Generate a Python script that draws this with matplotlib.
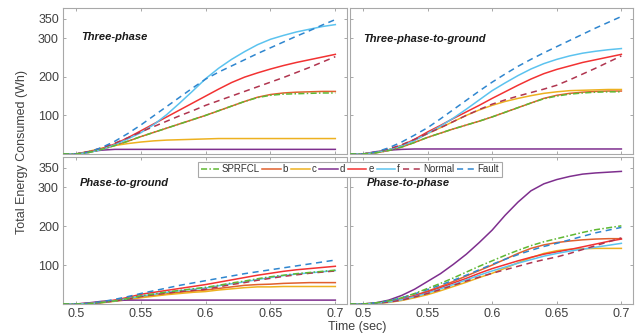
import matplotlib
matplotlib.use("Agg")
import matplotlib.pyplot as plt
from matplotlib.lines import Line2D

plt.rcParams["font.family"] = ["Liberation Sans", "DejaVu Sans"]

# time axis (sec)
t = [0.49, 0.50, 0.51, 0.52, 0.53, 0.54, 0.55, 0.56, 0.57, 0.58, 0.59,
     0.60, 0.61, 0.62, 0.63, 0.64, 0.65, 0.66, 0.67, 0.68, 0.69, 0.70]

series_names = ["SPRFCL", "b", "c", "d", "e", "f", "Normal", "Fault"]
panel_titles = ["Three-phase", "Three-phase-to-ground", "Phase-to-ground", "Phase-to-phase"]

# Three-phase
tp_sprfcl = [0, 0, 4, 12, 22, 33, 45, 56, 67, 78, 89, 100, 112, 124, 136, 146, 152, 155, 156, 157, 158, 158]
tp_b      = [0, 0, 4, 12, 22, 33, 45, 56, 67, 78, 89, 100, 112, 124, 136, 147, 154, 158, 160, 161, 162, 162]
tp_c      = [0, 0, 7, 15, 22, 27, 31, 34, 36, 37, 38, 39, 40, 40, 40, 40, 40, 40, 40, 40, 40, 40]
tp_d      = [0, 0, 6, 10, 12, 12, 12, 12, 12, 12, 12, 12, 12, 12, 12, 12, 12, 12, 12, 12, 12, 12]
tp_e      = [0, 0, 5, 14, 26, 42, 60, 78, 96, 114, 132, 150, 168, 185, 199, 210, 220, 229, 237, 244, 251, 258]
tp_f      = [0, 0, 4, 12, 24, 39, 55, 76, 102, 132, 163, 195, 222, 245, 265, 283, 297, 307, 316, 323, 330, 335]
tp_normal = [0, 0, 6, 16, 28, 42, 57, 71, 85, 99, 112, 126, 138, 150, 162, 174, 186, 198, 211, 224, 238, 252]
tp_fault  = [0, 0, 5, 17, 33, 53, 75, 99, 123, 147, 171, 194, 212, 228, 244, 260, 275, 290, 305, 319, 334, 348]

# Three-phase-to-ground
tpg_sprfcl = [0, 0, 3, 9, 18, 30, 43, 54, 65, 75, 85, 96, 108, 120, 132, 143, 150, 155, 158, 160, 161, 161]
tpg_b      = [0, 0, 3, 9, 18, 30, 43, 54, 65, 75, 85, 96, 108, 120, 132, 144, 152, 157, 160, 162, 163, 163]
tpg_c      = [0, 0, 4, 11, 22, 36, 53, 68, 84, 100, 114, 126, 136, 144, 151, 157, 161, 164, 165, 166, 167, 167]
tpg_d      = [0, 0, 6, 10, 12, 13, 13, 13, 13, 13, 13, 13, 13, 13, 13, 13, 13, 13, 13, 13, 13, 13]
tpg_e      = [0, 0, 4, 11, 22, 38, 57, 74, 92, 109, 126, 144, 161, 178, 194, 208, 219, 228, 237, 244, 251, 258]
tpg_f      = [0, 0, 4, 11, 21, 35, 53, 72, 93, 116, 140, 164, 184, 203, 220, 234, 245, 254, 261, 266, 270, 273]
tpg_normal = [0, 0, 5, 13, 24, 38, 53, 68, 84, 100, 115, 129, 140, 150, 159, 168, 178, 192, 207, 222, 238, 254]
tpg_fault  = [0, 0, 5, 16, 31, 49, 68, 91, 115, 139, 163, 186, 207, 227, 245, 262, 278, 294, 310, 326, 341, 356]

# Phase-to-ground
pg_sprfcl = [0, 0, 1, 4, 8, 14, 21, 26, 31, 35, 39, 43, 48, 54, 59, 65, 70, 74, 78, 81, 84, 87]
pg_b      = [0, 0, 1, 4, 8, 13, 18, 22, 26, 30, 33, 36, 40, 44, 48, 50, 51, 53, 54, 55, 55, 55]
pg_c      = [0, 0, 1, 3, 7, 11, 16, 20, 24, 27, 30, 32, 36, 39, 42, 44, 44, 45, 45, 45, 45, 45]
pg_d      = [0, 0, 3, 7, 9, 10, 10, 10, 10, 10, 10, 10, 10, 10, 10, 10, 10, 10, 10, 10, 10, 10]
pg_e      = [0, 0, 2, 5, 10, 17, 25, 30, 35, 40, 45, 50, 56, 62, 68, 74, 79, 84, 88, 91, 94, 97]
pg_f      = [0, 0, 1, 4, 8, 14, 20, 25, 30, 34, 38, 41, 47, 52, 57, 63, 68, 73, 77, 80, 83, 86]
pg_normal = [0, 0, 1, 4, 8, 13, 19, 24, 28, 32, 35, 38, 44, 50, 55, 61, 66, 71, 75, 79, 82, 85]
pg_fault  = [0, 0, 2, 6, 12, 19, 27, 34, 41, 48, 54, 60, 66, 72, 78, 83, 88, 93, 98, 103, 108, 113]

# Phase-to-phase
pp_sprfcl = [0, 0, 3, 8, 16, 27, 40, 53, 67, 82, 97, 111, 125, 138, 150, 160, 168, 176, 184, 191, 196, 201]
pp_b      = [0, 0, 2, 6, 13, 22, 33, 45, 58, 72, 86, 100, 115, 130, 143, 152, 158, 162, 165, 167, 168, 168]
pp_c      = [0, 0, 1, 4, 9, 16, 24, 34, 45, 56, 68, 79, 92, 106, 119, 130, 137, 141, 142, 143, 143, 143]
pp_d      = [0, 0, 3, 10, 22, 38, 58, 78, 102, 128, 158, 190, 228, 262, 291, 309, 320, 328, 334, 337, 339, 341]
pp_e      = [0, 0, 2, 6, 12, 21, 31, 42, 54, 66, 79, 91, 101, 111, 120, 128, 134, 140, 147, 154, 161, 167]
pp_f      = [0, 0, 2, 5, 11, 19, 28, 39, 50, 62, 74, 85, 95, 105, 114, 123, 130, 136, 141, 146, 151, 156]
pp_normal = [0, 0, 2, 5, 10, 18, 27, 37, 48, 59, 69, 79, 88, 97, 106, 114, 121, 130, 140, 150, 160, 170]
pp_fault  = [0, 0, 3, 8, 16, 26, 37, 49, 61, 74, 88, 102, 115, 127, 138, 148, 156, 165, 174, 183, 190, 197]

panels = [
    [tp_sprfcl, tp_b, tp_c, tp_d, tp_e, tp_f, tp_normal, tp_fault],
    [tpg_sprfcl, tpg_b, tpg_c, tpg_d, tpg_e, tpg_f, tpg_normal, tpg_fault],
    [pg_sprfcl, pg_b, pg_c, pg_d, pg_e, pg_f, pg_normal, pg_fault],
    [pp_sprfcl, pp_b, pp_c, pp_d, pp_e, pp_f, pp_normal, pp_fault],
]

x_ticks = [0.5, 0.55, 0.6, 0.65, 0.7]
x_ticklabels = ["0.5", "0.55", "0.6", "0.65", "0.7"]
y_ticks = [100, 200, 300, 350]

STYLES = {
    "SPRFCL": dict(color="#5fb832", linestyle=(0, (4, 1.5, 1, 1.5))),
    "b": dict(color="#e0602e", linestyle="-"),
    "c": dict(color="#EDB120", linestyle="-"),
    "d": dict(color="#7E2F8E", linestyle="-"),
    "e": dict(color="#f23232", linestyle="-"),
    "f": dict(color="#5cc3ef", linestyle="-"),
    "Normal": dict(color="#b0354f", linestyle=(0, (4, 3))),
    "Fault": dict(color="#2f86cf", linestyle=(0, (4, 3))),
}

W, H = 637, 333
fig = plt.figure(figsize=(W / 100, H / 100), dpi=100)

# axes boxes in pixels: left, top, right, bottom
boxes = [(63, 8, 347, 154), (350, 8, 633, 154),
         (63, 157, 347, 304), (350, 157, 633, 304)]
title_pos = [(0.063, 0.80), (0.046, 0.79), (0.06, 0.82), (0.06, 0.82)]

for i, (l, tp, r, b) in enumerate(boxes):
    ax = fig.add_axes([l / W, (H - b) / H, (r - l) / W, (b - tp) / H])
    for name, ys in zip(series_names, panels[i]):
        z = 3 if name == "SPRFCL" else 2
        ax.plot(t, ys, linewidth=1.1, zorder=z, **STYLES[name])
    ax.set_xlim(0.49, 0.709)
    ax.set_ylim(0, 378)
    ax.set_xticks(x_ticks)
    ax.set_yticks(y_ticks)
    ax.tick_params(direction="in", length=2.5, width=0.6, top=True, right=True,
                   labelsize=9, colors="#9a9a9a", labelcolor="#404040", pad=3)
    if i < 2:
        ax.set_xticklabels([])
    else:
        ax.set_xticklabels(x_ticklabels)
    if i % 2 == 1:
        ax.set_yticklabels([])
    for sp in ax.spines.values():
        sp.set_color("#a8a8a8")
        sp.set_linewidth(0.8)
    ax.text(title_pos[i][0], title_pos[i][1], panel_titles[i], transform=ax.transAxes,
            fontsize=8, fontweight="bold", fontstyle="italic", color="#1a1a1a",
            va="center", ha="left")

fig.text(22 / W, (H - 152) / H, "Total Energy Consumed (Wh)", rotation=90,
         fontsize=9, color="#404040", ha="center", va="center")
fig.text(357 / W, (H - 327) / H, "Time (sec)", fontsize=9, color="#404040",
         ha="center", va="center")

handles = [Line2D([], [], linewidth=1.1, **STYLES[n]) for n in series_names]
leg = fig.legend(handles, series_names, ncols=8, loc="upper center",
                 bbox_to_anchor=(350 / W, (H - 157) / H), fontsize=7,
                 handlelength=1.9, handletextpad=0.2, columnspacing=0.3,
                 borderpad=0.25, frameon=True, fancybox=False,
                 edgecolor="#a8a8a8", framealpha=1)
leg.get_frame().set_linewidth(0.8)
for txt in leg.get_texts():
    txt.set_color("#333333")

fig.savefig("out.png", dpi=100)
